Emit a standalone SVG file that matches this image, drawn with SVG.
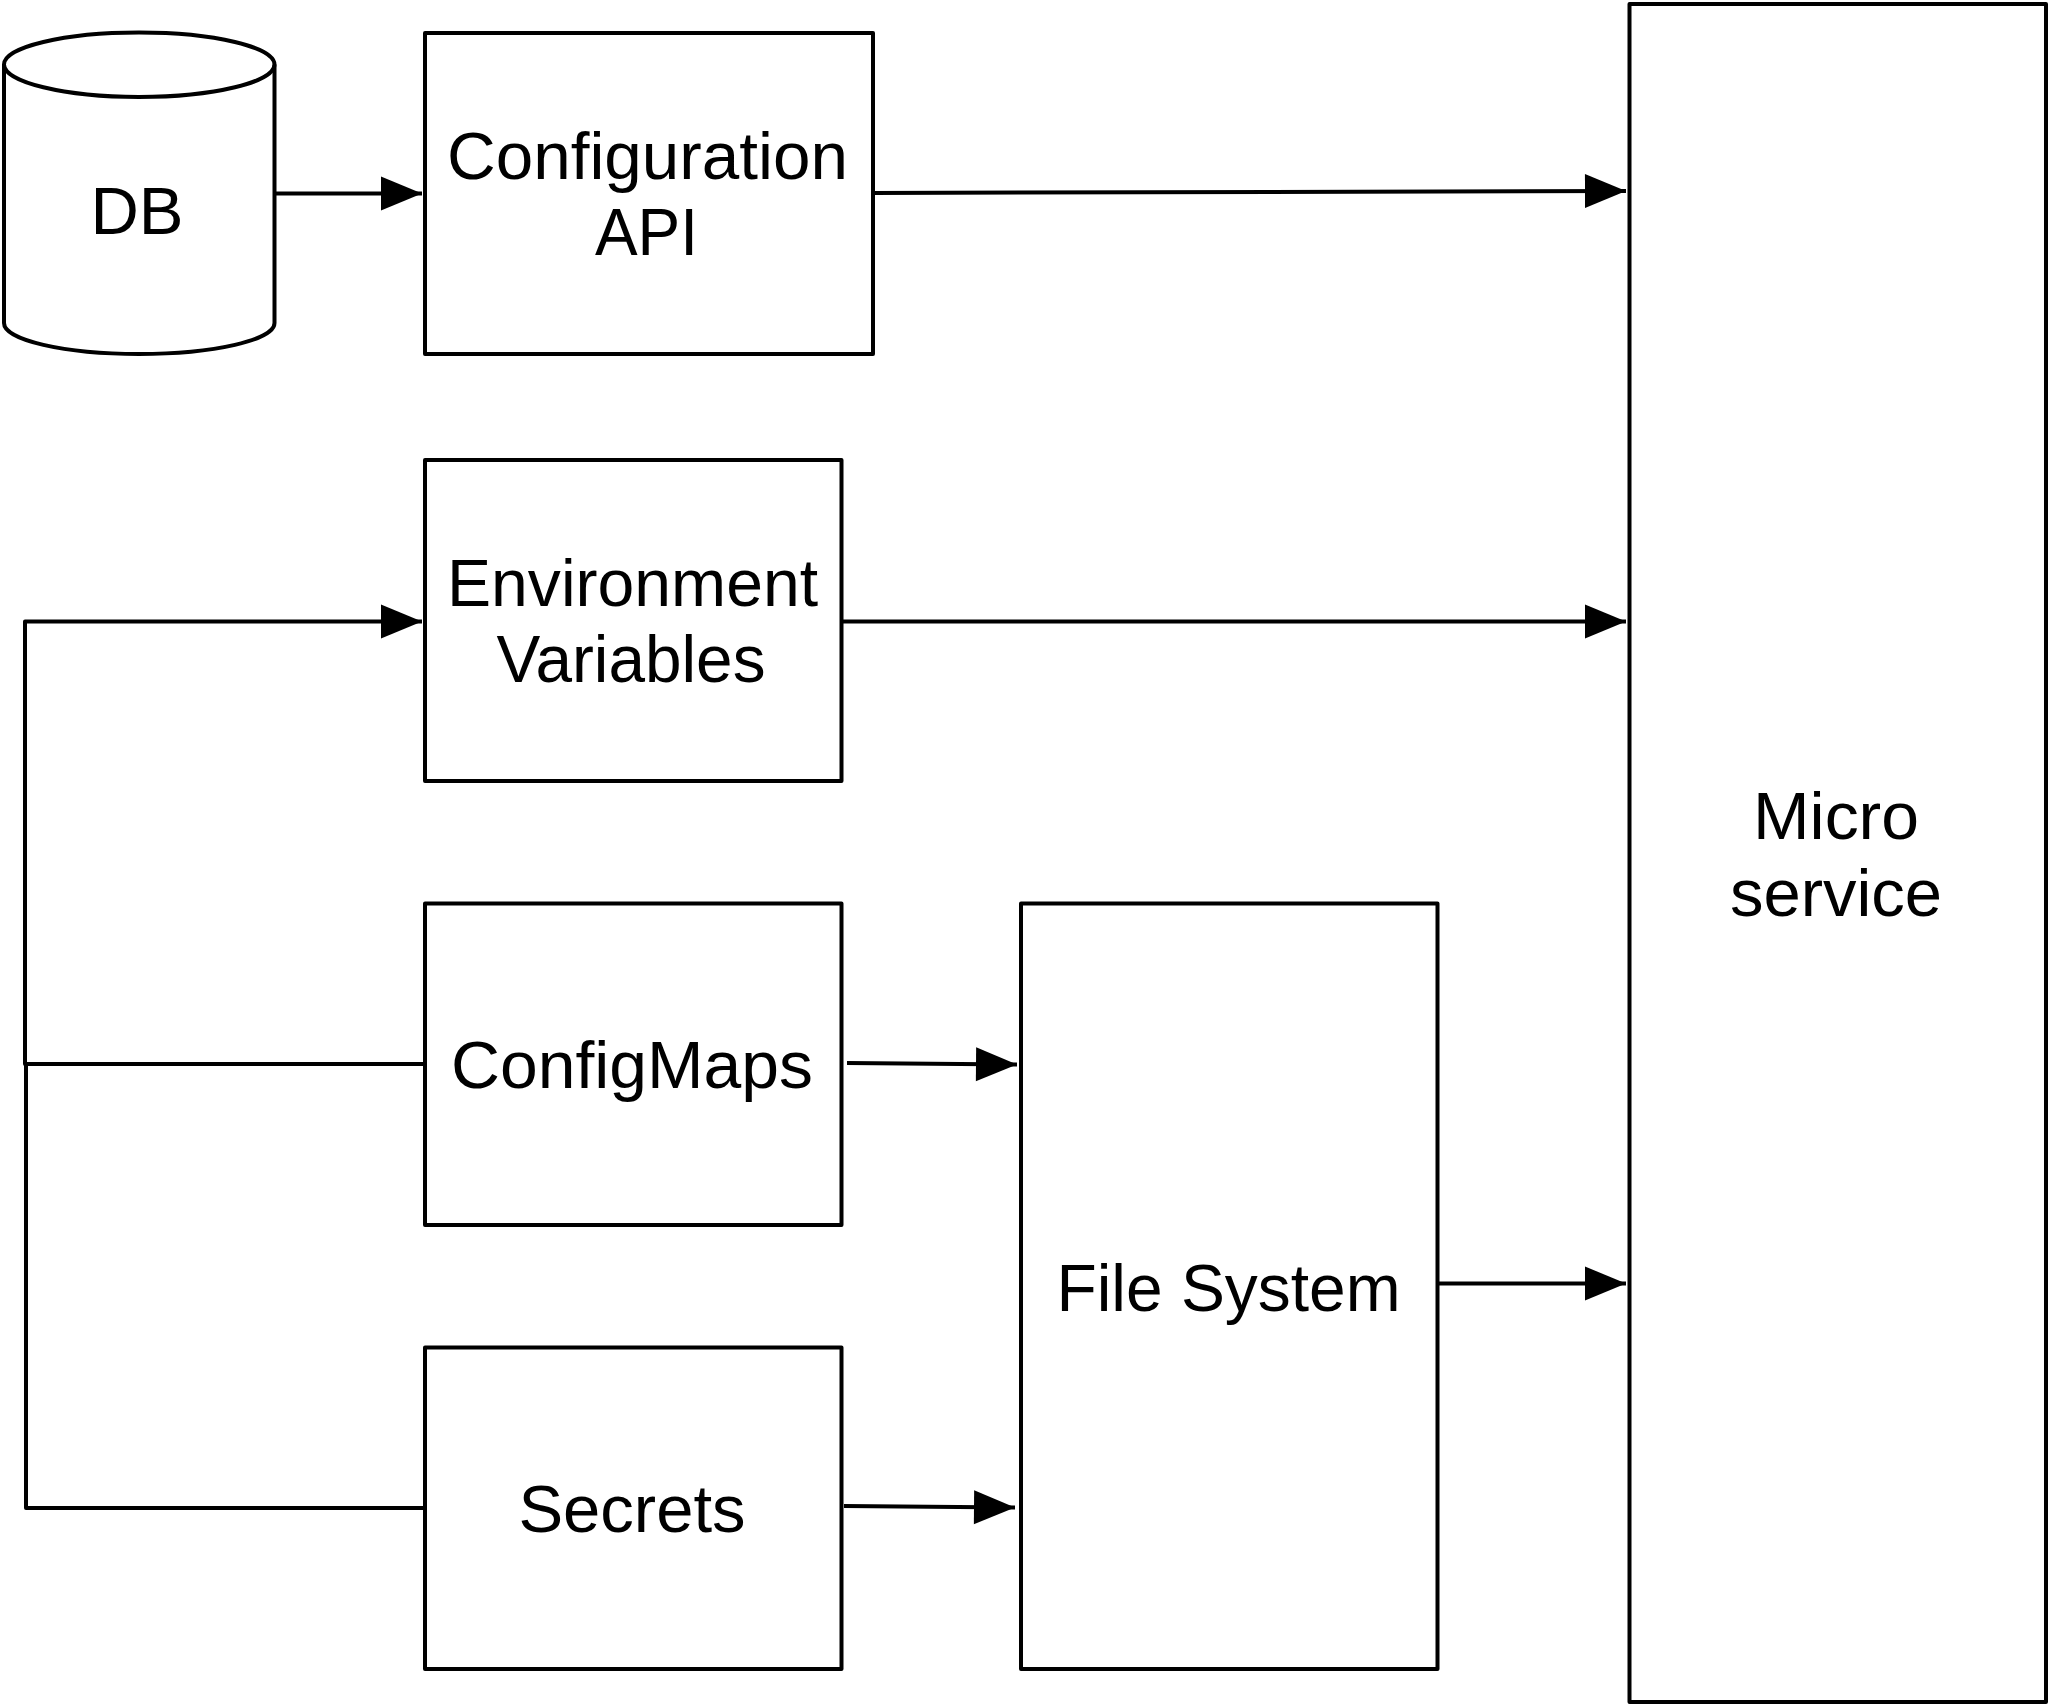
<svg xmlns="http://www.w3.org/2000/svg" width="2049" height="1704" viewBox="0 0 2049 1704">
<style>
.s{fill:#fff;stroke:#000;stroke-width:4;stroke-linejoin:round}
.c{fill:none;stroke:#000;stroke-width:4;stroke-linejoin:round}
text{font-family:"Liberation Sans",Arial,sans-serif;font-size:67px;fill:#000;text-anchor:middle;lengthAdjust:spacingAndGlyphs}
</style>
<defs><marker id="a" markerUnits="userSpaceOnUse" markerWidth="44" markerHeight="36" refX="42" refY="18" orient="auto"><path d="M1 1L42 18L1 35Z" fill="#000"/></marker></defs>
<rect width="2049" height="1704" fill="#fff"/>
<g id="connectors">
<path class="c" d="M274.500 193.500H422" marker-end="url(#a)"/>
<path class="c" d="M873 193L1626 191" marker-end="url(#a)"/>
<path class="c" d="M841.500 621.500H1626" marker-end="url(#a)"/>
<path class="c" d="M425 1064H25V621.500H422" marker-end="url(#a)"/>
<path class="c" d="M425 1508H26V1064"/>
<path class="c" d="M847 1063L1017 1064.500" marker-end="url(#a)"/>
<path class="c" d="M844 1506L1015 1507.500" marker-end="url(#a)"/>
<path class="c" d="M1437.500 1283.500H1626" marker-end="url(#a)"/>
</g>
<g id="db"><path class="s" d="M4 64.500C4 47 64 32.500 139 32.500S274.500 47 274.500 64.500V323C274.500 340 214 354 139 354S4 340 4 323Z"/><path class="c" d="M4 64.500C4 82 64 97 139 97S274.500 82 274.500 64.500"/><text x="137" y="233.500">DB</text></g>
<g id="config-api"><rect class="s" x="425" y="33" width="448" height="321"/><text x="647.500" y="179" textLength="401" lengthAdjust="spacingAndGlyphs">Configuration</text><text x="646.500" y="255" textLength="103" lengthAdjust="spacingAndGlyphs">API</text></g>
<g id="env"><rect class="s" x="425" y="460" width="416.500" height="321"/><text x="632.500" y="605.500" textLength="371" lengthAdjust="spacingAndGlyphs">Environment</text><text x="631" y="682" textLength="269" lengthAdjust="spacingAndGlyphs">Variables</text></g>
<g id="configmaps"><rect class="s" x="425" y="903.500" width="416.500" height="321.500"/><text x="632" y="1088" textLength="362" lengthAdjust="spacingAndGlyphs">ConfigMaps</text></g>
<g id="secrets"><rect class="s" x="425" y="1347.500" width="416.500" height="321.500"/><text x="632" y="1531.500">Secrets</text></g>
<g id="fs"><rect class="s" x="1021" y="903.500" width="416.500" height="765.500"/><text x="1228.500" y="1310.500" textLength="344" lengthAdjust="spacingAndGlyphs">File System</text></g>
<g id="micro"><rect class="s" x="1629.500" y="4" width="416.500" height="1698"/><text x="1836" y="838.500" textLength="166" lengthAdjust="spacingAndGlyphs">Micro</text><text x="1836" y="915.500">service</text></g>
</svg>
